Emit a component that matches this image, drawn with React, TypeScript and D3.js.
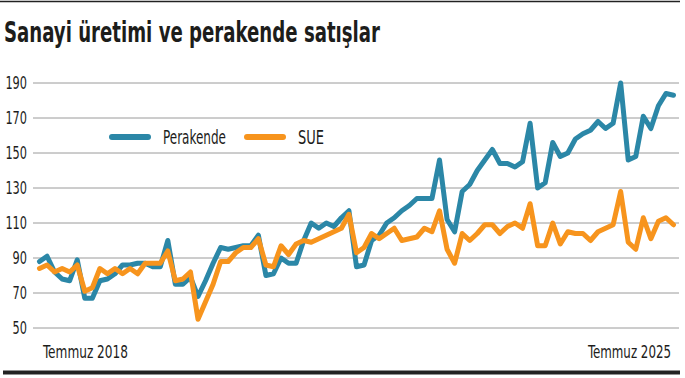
import React from "react";
import * as d3 from "d3";

const title = "Sanayi üretimi ve perakende satışlar";
const seriesNames = ["Perakende", "SUE"];
const seriesColors = ["#2b87a7", "#f7941d"];
const yTicks = [50, 70, 90, 110, 130, 150, 170, 190];
const xLabels = ["Temmuz 2018", "Temmuz 2025"];

// Monthly, Jul 2018 .. Jul 2025
const perakende = [
  88, 91, 82, 78, 77, 89, 67, 67, 77, 78, 81, 86, 86, 87, 87, 85, 85, 100, 75, 75,
  79, 68, 77, 87, 96, 95, 96, 97, 97, 103, 80, 81, 90, 87, 87, 100, 110, 107, 110, 108,
  113, 117, 85, 86, 100, 103, 110, 113, 117, 120, 124, 124, 124, 146, 112, 105, 128, 132, 140, 146,
  152, 144, 144, 142, 145, 167, 130, 133, 156, 148, 150, 158, 161, 163, 168, 164, 167, 190, 146, 148,
  171, 164, 177, 184, 183,
];
const sue = [
  84, 86, 82, 84, 82, 86, 71, 73, 84, 81, 84, 81, 84, 81, 87, 87, 87, 94, 77, 78,
  82, 55, 65, 75, 88, 88, 93, 96, 96, 101, 86, 85, 97, 92, 98, 100, 99, 101, 103, 105,
  107, 115, 93, 96, 104, 101, 104, 107, 100, 101, 102, 107, 105, 117, 95, 87, 104, 100, 104, 109,
  109, 104, 108, 110, 107, 121, 97, 97, 110, 98, 105, 104, 104, 100, 105, 107, 109, 128, 99, 95,
  113, 101, 111, 113, 109,
];

const W = 685;
const H = 378;
const FONT = "'DejaVu Sans Condensed', 'Liberation Sans Narrow', 'DejaVu Sans', sans-serif";
const INK = "#1d1d1b";

export default function App() {
  const x = d3.scaleLinear().domain([0, perakende.length - 1]).range([39.5, 673.5]);
  const y = d3.scaleLinear().domain([50, 190]).range([328, 83]);
  const line = d3
    .line<number>()
    .x((_, i) => x(i))
    .y((d) => y(d));
  const data = [perakende, sue];

  return (
    <div style={{ position: "fixed", left: 0, top: 0 }}>
      <svg width={W} height={H} style={{ display: "block", background: "#fff" }}>
        <line x1={0} x2={680} y1={1.5} y2={1.5} stroke="#222" strokeWidth={1.5} />
        <text
          x={4}
          y={42}
          fontFamily={FONT}
          fontWeight="bold"
          fontSize={29}
          fill={INK}
          textLength={376}
          lengthAdjust="spacingAndGlyphs"
        >
          {title}
        </text>
        {yTicks.map((t) => (
          <g key={t}>
            <line x1={33} x2={679} y1={y(t)} y2={y(t)} stroke="#9a9a9a" strokeWidth={1} />
            <text
              x={27}
              y={y(t) + 6.3}
              textAnchor="end"
              fontFamily={FONT}
              fontSize={17.5}
              fill={INK}
              textLength={String(t).length * 7.2}
              lengthAdjust="spacingAndGlyphs"
            >
              {t}
            </text>
          </g>
        ))}
        {data.map((d, k) => (
          <path
            key={k}
            d={line(d) || ""}
            fill="none"
            stroke={seriesColors[k]}
            strokeWidth={5}
            strokeLinejoin="round"
            strokeLinecap="round"
          />
        ))}
        {/* legend */}
        <line x1={112} x2={148} y1={137} y2={137} stroke={seriesColors[0]} strokeWidth={6} strokeLinecap="round" />
        <text
          x={163}
          y={144}
          fontFamily={FONT}
          fontSize={19}
          fill={INK}
          textLength={63}
          lengthAdjust="spacingAndGlyphs"
        >
          {seriesNames[0]}
        </text>
        <line x1={247} x2={283} y1={137} y2={137} stroke={seriesColors[1]} strokeWidth={6} strokeLinecap="round" />
        <text
          x={298}
          y={144}
          fontFamily={FONT}
          fontSize={19}
          fill={INK}
          textLength={26}
          lengthAdjust="spacingAndGlyphs"
        >
          {seriesNames[1]}
        </text>
        <g transform="translate(43,358) scale(1,1.25)">
          <text
            x={0}
            y={0}
            fontFamily={FONT}
            fontSize={14}
            fill={INK}
            textLength={85}
            lengthAdjust="spacingAndGlyphs"
          >
            {xLabels[0]}
          </text>
        </g>
        <g transform="translate(671,358) scale(1,1.25)">
          <text
            x={0}
            y={0}
            textAnchor="end"
            fontFamily={FONT}
            fontSize={14}
            fill={INK}
            textLength={83}
            lengthAdjust="spacingAndGlyphs"
          >
            {xLabels[1]}
          </text>
        </g>
        <line x1={3} x2={680} y1={372.5} y2={372.5} stroke="#222" strokeWidth={4} />
      </svg>
    </div>
  );
}
